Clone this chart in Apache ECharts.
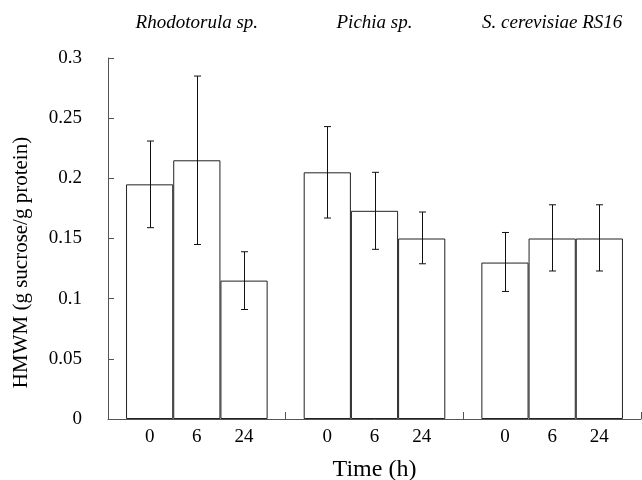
<!DOCTYPE html>
<html>
<head>
<meta charset="utf-8">
<script src="https://cdn.jsdelivr.net/npm/echarts@6/dist/echarts.min.js"></script>
<style>
  html, body { margin: 0; padding: 0; background: #fff; }
  #chart { width: 642px; height: 480px; }
</style>
</head>
<body>
<div id="chart"></div>
<script>
var groups = ['Rhodotorula sp.', 'Pichia sp.', 'S. cerevisiae RS16'];
var times = ['0', '6', '24'];
// mean HMWM per time point, one value per strain
var mean0 = [0.195, 0.205, 0.130];
var mean6 = [0.215, 0.173, 0.150];
var mean24 = [0.115, 0.150, 0.150];
// error bar ends
var low0 = [0.159, 0.167, 0.106];
var high0 = [0.231, 0.243, 0.155];
var low6 = [0.145, 0.141, 0.123];
var high6 = [0.285, 0.205, 0.178];
var low24 = [0.091, 0.129, 0.123];
var high24 = [0.139, 0.172, 0.178];
var yTicks = [0, 0.05, 0.1, 0.15, 0.2, 0.25, 0.3];

var means = [mean0, mean6, mean24];
var lows = [low0, low6, low24];
var highs = [high0, high6, high24];

var FONT = '"Liberation Serif", "Times New Roman", serif';
var CAT_GAP = 0.203;
var myChart = window.echarts.init(document.getElementById('chart'));

var series = [];
times.forEach(function (t, k) {
    series.push({
        name: t,
        type: 'bar',
        data: means[k],
        barGap: '0%',
        barCategoryGap: (CAT_GAP * 100) + '%',
        itemStyle: { color: '#fff', borderColor: '#222', borderWidth: 1 },
        label: {
            show: true,
            position: 'bottom',
            distance: 9,
            formatter: t,
            fontFamily: FONT,
            fontSize: 19,
            color: '#000'
        },
        silent: true
    });
});
times.forEach(function (t, k) {
    series.push({
        name: t + ' err',
        type: 'custom',
        data: groups.map(function (g, i) {
            return [i, lows[k][i], highs[k][i]];
        }),
        renderItem: function (params, api) {
            var lo = api.coord([api.value(0), api.value(1)]);
            var hi = api.coord([api.value(0), api.value(2)]);
            var barW = api.size([1, 0])[0] * (1 - CAT_GAP) / times.length;
            var x = Math.round(lo[0] + (k - 1) * barW) + 0.5;
            var cap = 3.5;
            var style = { stroke: '#111', lineWidth: 1 };
            return {
                type: 'group',
                children: [
                    { type: 'line', shape: { x1: x, y1: lo[1], x2: x, y2: hi[1] }, style: style },
                    { type: 'line', shape: { x1: x - cap, y1: hi[1], x2: x + cap, y2: hi[1] }, style: style },
                    { type: 'line', shape: { x1: x - cap, y1: lo[1], x2: x + cap, y2: lo[1] }, style: style }
                ]
            };
        },
        z: 5,
        silent: true
    });
});

var option = {
    animation: false,
    grid: { left: 108, right: 1, top: 58, bottom: 61, containLabel: false, outerBoundsMode: 'none' },
    xAxis: [{
        type: 'category',
        data: groups,
        axisLine: { lineStyle: { color: '#555', width: 1 } },
        axisTick: { show: true, inside: true, length: 7, lineStyle: { color: '#555' } },
        axisLabel: { show: false },
        name: 'Time (h)',
        nameLocation: 'middle',
        nameGap: 39,
        nameTextStyle: { fontFamily: FONT, fontSize: 24, color: '#000' }
    }, {
        type: 'category',
        position: 'top',
        data: groups,
        axisLine: { show: false },
        axisTick: { show: false },
        axisLabel: {
            interval: 0,
            hideOverlap: false,
            margin: 26,
            fontFamily: FONT,
            fontStyle: 'italic',
            fontSize: 19,
            color: '#000'
        }
    }],
    yAxis: {
        type: 'value',
        min: yTicks[0],
        max: yTicks[yTicks.length - 1],
        interval: yTicks[1] - yTicks[0],
        splitLine: { show: false },
        axisLine: { show: true, lineStyle: { color: '#555', width: 1 } },
        axisTick: { show: true, inside: true, length: 6, lineStyle: { color: '#555' } },
        axisLabel: { margin: 26, fontFamily: FONT, fontSize: 19, color: '#000' },
        name: 'HMWM (g sucrose/g protein)',
        nameLocation: 'middle',
        nameGap: 76,
        nameTextStyle: { fontFamily: FONT, fontSize: 21, color: '#000', padding: [0, 48, 0, 0] }
    },
    series: series
};

myChart.setOption(option);
</script>
</body>
</html>
